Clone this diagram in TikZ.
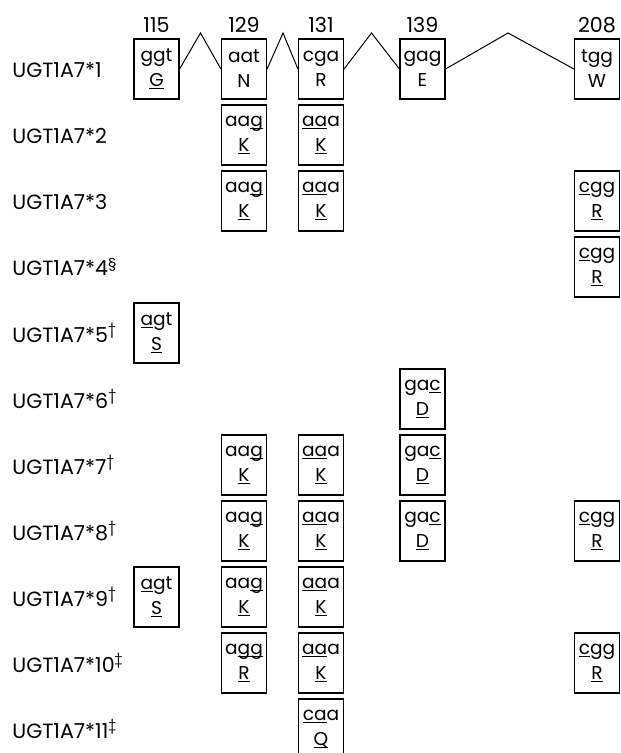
\documentclass[tikz,border=0pt]{standalone}
\usepackage{fontspec}
\setmainfont{Poppins}
\newcommand\uln[1]{\setbox0\hbox{#1}\rlap{\rule[-1.5pt]{\wd0}{0.45pt}}#1}
\newcommand\cK{aa\uln{g}\\\uln{K}}
\newcommand\cKK{\uln{aa}a\\\uln{K}}
\newcommand\cR{\uln{c}gg\\\uln{R}}
\newcommand\cS{\uln{a}gt\\\uln{S}}
\newcommand\cD{ga\uln{c}\\\uln{D}}
\begin{document}
\begin{tikzpicture}[x=0.5pt,y=-0.5pt,
  cell/.style={draw, line width=0.6pt, minimum width=22.5pt, minimum height=30pt,
    inner sep=0pt, align=center, font=\fontsize{9.3}{12.5}\selectfont},
  allele/.style={anchor=base west, inner sep=0pt, font=\fontsize{10.3}{12}\selectfont},
  posn/.style={anchor=base, inner sep=0pt, font=\fontsize{10.3}{12}\selectfont},
  link/.style={line width=0.5pt}]
\useasboundingbox (0,0) rectangle (620,753);
% columns: A=156.5 B=244 C=321 D=422.5 E=597 ; rows center 69+66(i-1)
\node[posn] (nA) at (156.5,33) {115};
\node[posn] (nB) at (244,33) {129};
\node[posn] (nC) at (321,33) {131};
\node[posn] (nD) at (422.5,33) {139};
\node[posn] (nE) at (597,33) {208};
% labels
\node[allele] (l1) at (12,78) {UGT1A7*1};
\node[allele] (l2) at (12,144) {UGT1A7*2};
\node[allele] (l3) at (12,210) {UGT1A7*3};
\node[allele] (l4) at (12,276) {UGT1A7*4\textsuperscript{§}};
\node[allele] (l5) at (12,342) {UGT1A7*5\textsuperscript{†}};
\node[allele] (l6) at (12,408) {UGT1A7*6\textsuperscript{†}};
\node[allele] (l7) at (12,474) {UGT1A7*7\textsuperscript{†}};
\node[allele] (l8) at (12,540) {UGT1A7*8\textsuperscript{†}};
\node[allele] (l9) at (12,606) {UGT1A7*9\textsuperscript{†}};
\node[allele] (l10) at (12,672) {UGT1A7*10\textsuperscript{‡}};
\node[allele] (l11) at (12,738) {UGT1A7*11\textsuperscript{‡}};
% row 1
\node[cell] (r1A) at (156.5,69) {ggt\\\uln{G}};
\node[cell] (r1B) at (244,69) {aat\\N};
\node[cell] (r1C) at (321,69) {cga\\R};
\node[cell] (r1D) at (422.5,69) {gag\\E};
\node[cell] (r1E) at (597,69) {tgg\\W};
\coordinate (p1) at (200.5,33);
\coordinate (p2) at (283,33);
\coordinate (p3) at (371.5,33);
\coordinate (p4) at (508,33);
\draw[link] (r1A.east) -- (p1) -- (r1B.west);
\draw[link] (r1B.east) -- (p2) -- (r1C.west);
\draw[link] (r1C.east) -- (p3) -- (r1D.west);
\draw[link] (r1D.east) -- (p4) -- (r1E.west);
% row 2
\node[cell] (r2B) at (244,135) {\cK};
\node[cell] (r2C) at (321,135) {\cKK};
% row 3
\node[cell] (r3B) at (244,201) {\cK};
\node[cell] (r3C) at (321,201) {\cKK};
\node[cell] (r3E) at (597,201) {\cR};
% row 4
\node[cell] (r4E) at (597,267) {\cR};
% row 5
\node[cell] (r5A) at (156.5,333) {\cS};
% row 6
\node[cell] (r6D) at (422.5,399) {\cD};
% row 7
\node[cell] (r7B) at (244,465) {\cK};
\node[cell] (r7C) at (321,465) {\cKK};
\node[cell] (r7D) at (422.5,465) {\cD};
% row 8
\node[cell] (r8B) at (244,531) {\cK};
\node[cell] (r8C) at (321,531) {\cKK};
\node[cell] (r8D) at (422.5,531) {\cD};
\node[cell] (r8E) at (597,531) {\cR};
% row 9
\node[cell] (r9A) at (156.5,597) {\cS};
\node[cell] (r9B) at (244,597) {\cK};
\node[cell] (r9C) at (321,597) {\cKK};
% row 10
\node[cell] (r10B) at (244,663) {a\uln{gg}\\\uln{R}};
\node[cell] (r10C) at (321,663) {\cKK};
\node[cell] (r10E) at (597,663) {\cR};
% row 11
\node[cell] (r11C) at (321,729) {\uln{ca}a\\\uln{Q}};
\end{tikzpicture}
\end{document}
